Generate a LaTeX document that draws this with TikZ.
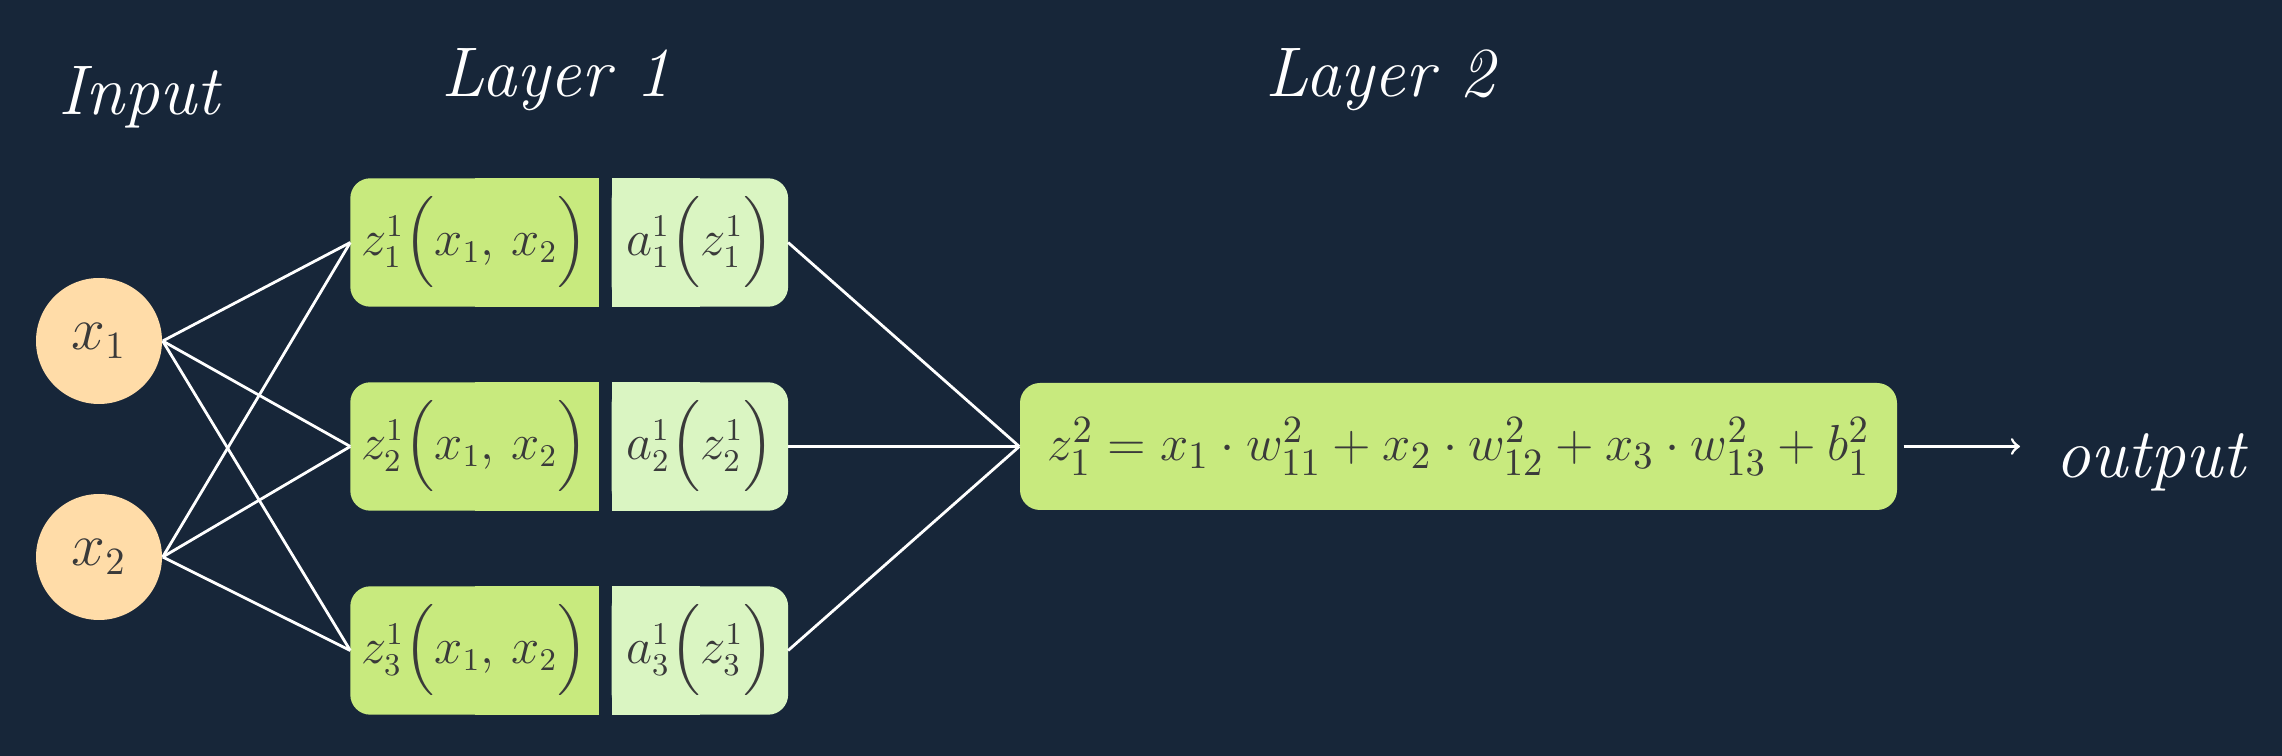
\documentclass[tikz,border=0pt]{standalone}
\usepackage{amsmath}
\usepackage{xcolor}
\usepackage{tikz}
\usetikzlibrary{positioning}

\definecolor{navy}{HTML}{172639}
\definecolor{zgreen}{HTML}{C8EA7E}
\definecolor{agreen}{HTML}{DAF5C2}
\definecolor{peach}{HTML}{FFDCA8}
\definecolor{ink}{HTML}{3A3A3A}

\pgfdeclarelayer{boxes}
\pgfsetlayers{boxes,main}

\begin{document}
\begin{tikzpicture}[
      inp/.style={
        circle,
        fill=peach,
        text=ink,
        minimum size=1.26cm,
        inner sep=0pt,
        font=\fontsize{16}{19}\selectfont
      },
      zbox/.style={
        rectangle,
        text=ink,
        minimum width=2.47cm,
        minimum height=1.27cm,
        inner sep=0pt,
        font=\fontsize{13.5}{17}\selectfont
      },
      abox/.style={
        zbox,
        minimum width=1.75cm
      },
      title/.style={
        text=white,
        anchor=base,
        inner sep=0pt,
        font=\fontsize{20}{24}\selectfont\itshape
      }
      ]
        \useasboundingbox (0,0) rectangle (22.82,7.56);

        % Titres
        \node[title] (input) at (1.39,6.41) {Input};
        \node[title] (layer1) at (5.56,6.59) {Layer 1};
        \node[title] (layer2) at (13.80,6.59) {Layer 2};

        \node[inp] (x1) at (0.99,4.15) {$x_1$};
        \node[inp] (x2) at (0.99,1.99) {$x_2$};

        \foreach \i/\y in {1/5.135, 2/3.095, 3/1.055} {
            \node[zbox] (z\i) at (4.745,\y) {$z^1_{\i}\Big(x_1,\, x_2\Big)$};
            \node[abox, right=0.13cm of z\i] (a\i) {$a^1_{\i}\Big(z^1_{\i}\Big)$};
        }

        \node[zbox, fill=zgreen, rounded corners=0.2cm, minimum width=8.77cm, font=\fontsize{15}{17}\selectfont] (l2) at (14.585,3.095)
            {$z^2_1 = x_1\cdot w^2_{11} + x_2\cdot w^2_{12} + x_3\cdot w^2_{13} + b^2_1$};

        \node[title, anchor=base west] (out) at (20.55,2.78) {output};

        \foreach \i in {1,2,3} {
            \draw[-, thick, white] (x1.east) -- (z\i.west);
            \draw[-, thick, white] (x2.east) -- (z\i.west);
            \draw[-, thick, white] (a\i.east) -- (l2.west);
        }
        \draw[->, thick, white, shorten <=0.06cm, shorten >=0.35cm] (l2.east) -- (l2.east -| out.west);

        % Fonds
        \begin{pgfonlayer}{boxes}
            \fill[navy] (0,0) rectangle (22.82,7.56);
            \foreach \i in {1,2,3} {
                \fill[zgreen, rounded corners=0.2cm] (z\i.south west) rectangle (z\i.north east);
                \fill[zgreen] (z\i.south) rectangle (z\i.north east);
                \fill[agreen, rounded corners=0.2cm] (a\i.south west) rectangle (a\i.north east);
                \fill[agreen] (a\i.south west) rectangle (a\i.north);
            }
        \end{pgfonlayer}
    \end{tikzpicture}
\end{document}
